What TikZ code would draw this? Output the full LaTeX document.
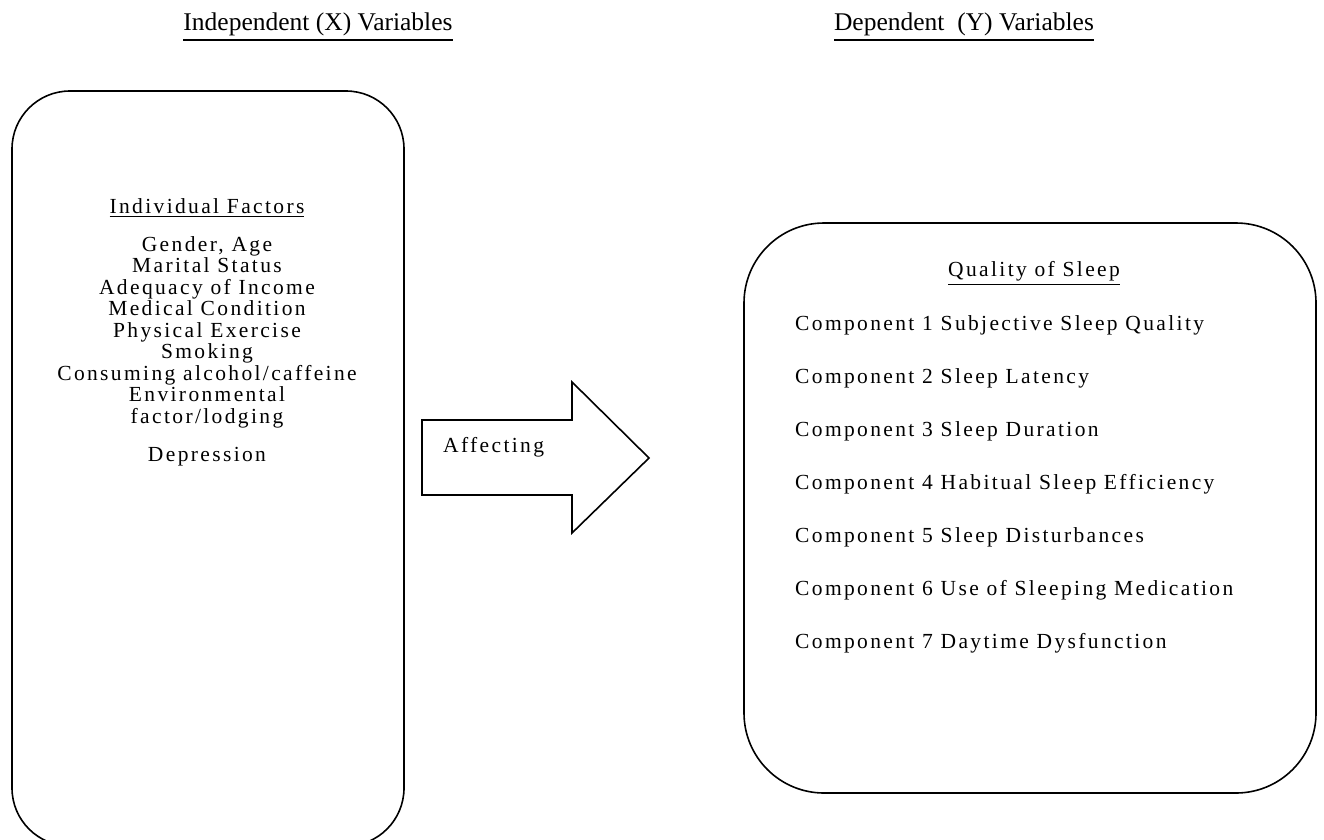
\documentclass[tikz,border=0pt]{standalone}
\usepackage{fontspec}
\setmainfont{Liberation Serif}
\newfontfamily\boxfont[LetterSpace=11]{Liberation Serif}
\newcommand\ulin[3]{\leavevmode\vtop{\hbox{#3}\kern#1\hrule height #2}}
\begin{document}
\begin{tikzpicture}[x=1pt,y=-1pt,
  title/.style={font=\fontsize{25.5}{28}\selectfont, inner sep=0pt, anchor=base},
  boxtext/.style={font=\boxfont\fontsize{21.5}{24}\selectfont, inner sep=0pt, anchor=base},
  panel/.style={draw, line width=1.6pt, fill=none, inner sep=0pt}]
\useasboundingbox (0,0) rectangle (1324,839);
\node[title] (tx) at (318,30) {\ulin{4pt}{1.6pt}{Independent (X) Variables}};
\node[title] (ty) at (964,30) {\ulin{4pt}{1.6pt}{Dependent\ \ (Y) Variables}};
% left panel
\node[panel, rounded corners=58pt, minimum width=392pt, minimum height=755pt] (left) at (208,468.5) {};
\node[boxtext] (f0) at (207,213) {\ulin{3pt}{1.1pt}{Individual Factors}};
\foreach \t [count=\i] in {{Gender, Age}, Marital Status, Adequacy of Income, Medical Condition, Physical Exercise, Smoking, Consuming alcohol/caffeine, Environmental, factor/lodging}{
  \node[boxtext] (f\i) at (207,{251+21.5*(\i-1)}) {\t};
}
\node[boxtext] (dep) at (207,461) {Depression};
% arrow
\draw[line width=1.6pt, line join=miter] (422,420) -- (572,420) -- (572,382) -- (649,458) -- (572,533) -- (572,495) -- (422,495) -- cycle;
\node[boxtext, anchor=base west] (aff) at (443,452) {Affecting};
% right panel
\node[panel, rounded corners=80pt, minimum width=572pt, minimum height=570pt] (right) at (1030,508) {};
\node[boxtext] (q0) at (1034,276) {\ulin{3pt}{1.1pt}{Quality of Sleep}};
\foreach \t [count=\i] in {Component 1 Subjective Sleep Quality, Component 2 Sleep Latency, Component 3 Sleep Duration, Component 4 Habitual Sleep Efficiency, Component 5 Sleep Disturbances, Component 6 Use of Sleeping Medication, Component 7 Daytime Dysfunction}{
  \node[boxtext, anchor=base west] (c\i) at (795,{330+53*(\i-1)}) {\t};
}
\end{tikzpicture}
\end{document}
